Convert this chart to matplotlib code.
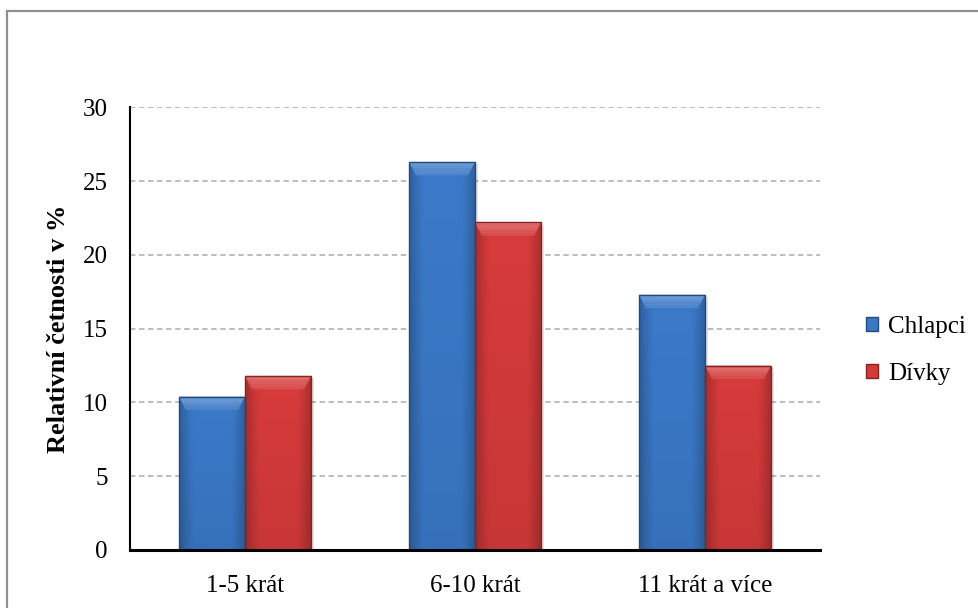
import numpy as np
import matplotlib
matplotlib.use("Agg")
import matplotlib.pyplot as plt
from matplotlib.patches import Rectangle, Polygon, Patch
from matplotlib.colors import to_rgb

# Data
categories = ["1-5 krát", "6-10 krát", "11 krát a více"]
chlapci = [10.4, 26.3, 17.3]
divky = [11.8, 22.2, 12.5]
series_names = ["Chlapci", "Dívky"]
y_ticks = [0, 5, 10, 15, 20, 25, 30]

blue = "#3a78c6"
red = "#d43a3a"

plt.rcParams["font.family"] = ["Liberation Serif", "DejaVu Serif"]

fig = plt.figure(figsize=(9.79, 6.08), dpi=100)
ax = fig.add_axes([0.1328, 0.0954, 0.8376 - 0.1328, 0.8235 - 0.0954])

x = np.arange(len(categories))
width = 0.287


def shade(color, f):
    r, g, b = to_rgb(color)
    if f >= 1:
        return tuple(c + (1 - c) * (f - 1) for c in (r, g, b))
    return tuple(c * f for c in (r, g, b))


def fancy_bars(xpos, values, color):
    bars = ax.bar(xpos, values, width, color=color, zorder=3, linewidth=0)
    base = np.array(to_rgb(color))
    for b in bars:
        x0, w, h = b.get_x(), b.get_width(), b.get_height()
        # soft drop shadow
        ax.add_patch(Rectangle((x0 + 0.008, -0.25), w + 0.006, h + 0.1,
                               facecolor="#000000", alpha=0.10, zorder=2,
                               linewidth=0))
        # horizontal + vertical shading inside the bar
        nx, ny = 60, 80
        u = np.linspace(0, 1, nx)
        v = np.linspace(0, 1, ny)
        hprof = 0.80 + 0.22 * np.clip(np.sin(np.pi * u) * 1.6, 0, 1)
        vprof = 0.92 + 0.08 * v
        fac = vprof[:, None] * hprof[None, :]
        img = np.clip(base[None, None, :] * fac[:, :, None], 0, 1)
        im = ax.imshow(img, extent=(x0, x0 + w, 0, h), origin="lower",
                       aspect="auto", zorder=3.5, interpolation="bilinear")
        im.set_clip_path(b)
        # bevelled top edge, fading downward
        dy = 0.9
        dx = 0.03
        top = h
        steps = 6
        for k in range(steps):
            t0 = k / steps
            t1 = (k + 1) / steps
            ax.add_patch(Polygon(
                [(x0 + dx * t0, top - dy * t0), (x0 + w - dx * t0, top - dy * t0),
                 (x0 + w - dx * t1, top - dy * t1), (x0 + dx * t1, top - dy * t1)],
                closed=True, facecolor=shade(color, 1.28 - 0.2 * t0),
                linewidth=0, zorder=4))
        # dark outline
        ax.add_patch(Rectangle((x0, 0), w, h, fill=False,
                               edgecolor=shade(color, 0.62), linewidth=1.0,
                               zorder=4.5))
    return bars


fancy_bars(x - width / 2, chlapci, blue)
fancy_bars(x + width / 2, divky, red)

ax.set_xlim(-0.5, 2.5)
ax.set_ylim(0, 30)
ax.set_yticks(y_ticks)
ax.set_xticks(x)
ax.set_xticklabels(categories)
ax.tick_params(axis="both", length=0, labelsize=18)
ax.tick_params(axis="y", pad=16)
ax.tick_params(axis="x", pad=18)

ax.yaxis.grid(True, color="#b8b8b8", linestyle=(0, (3, 2)), linewidth=1.3,
              zorder=0)
ax.set_axisbelow(True)

for s in ["top", "right"]:
    ax.spines[s].set_visible(False)
ax.spines["left"].set_linewidth(1.5)
ax.spines["bottom"].set_linewidth(2.2)
ax.spines["bottom"].set_zorder(6)

ax.set_ylabel("Relativní četnosti v %", fontsize=19, fontweight="bold",
              labelpad=9)

handles = [Patch(facecolor=blue, edgecolor=shade(blue, 0.6)),
           Patch(facecolor=red, edgecolor=shade(red, 0.6))]
fig.legend(handles, series_names, loc="center left",
           bbox_to_anchor=(0.862, 0.424), frameon=False, fontsize=18,
           handlelength=0.48, handleheight=0.48, handletextpad=0.4,
           labelspacing=1.0)

# outer chart frame
fig.add_artist(Rectangle((7.5 / 979, -0.05), 1.1, (608 - 10.5) / 608 + 0.05,
                         transform=fig.transFigure, fill=False,
                         edgecolor="#8f8f8f", linewidth=1.6))

fig.savefig("out.png", dpi=100)
